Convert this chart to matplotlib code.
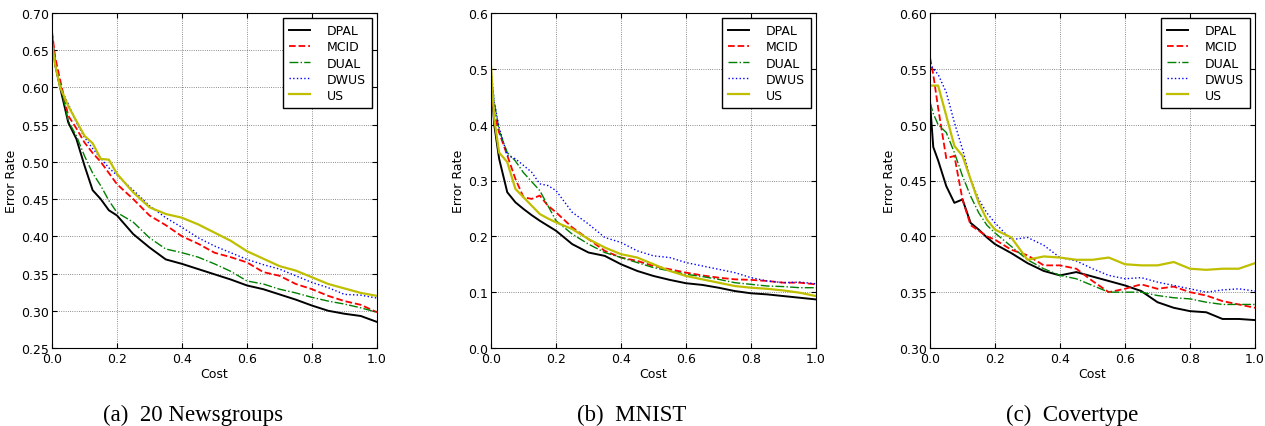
import numpy as np
import matplotlib
matplotlib.use("Agg")
import matplotlib.pyplot as plt

# common cost grid
cost = [0.0, 0.01, 0.025, 0.05, 0.075, 0.1, 0.125, 0.15, 0.175, 0.2,
        0.25, 0.3, 0.35, 0.4, 0.45, 0.5, 0.55, 0.6, 0.65, 0.7,
        0.75, 0.8, 0.85, 0.9, 0.95, 1.0]

# (a) 20 Newsgroups
news_dpal = [0.67, 0.63, 0.60, 0.553, 0.531, 0.495, 0.462, 0.45, 0.435, 0.428,
             0.403, 0.385, 0.369, 0.363, 0.356, 0.349, 0.342, 0.334, 0.329, 0.322,
             0.315, 0.307, 0.300, 0.296, 0.293, 0.285]
news_mcid = [0.675, 0.64, 0.61, 0.562, 0.545, 0.526, 0.512, 0.50, 0.485, 0.47,
             0.45, 0.428, 0.415, 0.40, 0.39, 0.378, 0.372, 0.365, 0.352, 0.347,
             0.336, 0.329, 0.32, 0.313, 0.308, 0.298]
news_dual = [0.665, 0.63, 0.605, 0.555, 0.535, 0.508, 0.485, 0.468, 0.448, 0.432,
             0.419, 0.398, 0.383, 0.378, 0.372, 0.363, 0.353, 0.340, 0.336, 0.329,
             0.324, 0.318, 0.313, 0.309, 0.304, 0.298]
news_dwus = [0.665, 0.63, 0.60, 0.578, 0.553, 0.533, 0.518, 0.505, 0.492, 0.482,
             0.462, 0.441, 0.425, 0.412, 0.398, 0.387, 0.378, 0.369, 0.362, 0.356,
             0.347, 0.338, 0.331, 0.322, 0.321, 0.317]
news_us = [0.66, 0.63, 0.60, 0.575, 0.555, 0.535, 0.525, 0.504, 0.503, 0.484,
           0.459, 0.439, 0.430, 0.425, 0.416, 0.405, 0.394, 0.380, 0.370, 0.360,
           0.354, 0.345, 0.336, 0.330, 0.324, 0.32]

# (b) MNIST
mnist_dpal = [0.48, 0.40, 0.339, 0.279, 0.261, 0.249, 0.238, 0.228, 0.219, 0.21,
              0.186, 0.171, 0.165, 0.15, 0.138, 0.129, 0.122, 0.116, 0.113, 0.108,
              0.102, 0.098, 0.096, 0.093, 0.090, 0.087]
mnist_mcid = [0.46, 0.42, 0.386, 0.345, 0.303, 0.27, 0.267, 0.273, 0.255, 0.243,
              0.216, 0.195, 0.174, 0.162, 0.156, 0.147, 0.141, 0.135, 0.130, 0.126,
              0.123, 0.122, 0.120, 0.117, 0.117, 0.114]
mnist_dual = [0.49, 0.44, 0.39, 0.35, 0.335, 0.314, 0.298, 0.282, 0.255, 0.228,
              0.204, 0.186, 0.171, 0.162, 0.153, 0.144, 0.138, 0.132, 0.128, 0.123,
              0.117, 0.114, 0.111, 0.110, 0.108, 0.108]
mnist_dwus = [0.50, 0.44, 0.395, 0.345, 0.339, 0.327, 0.315, 0.294, 0.291, 0.282,
              0.243, 0.222, 0.198, 0.189, 0.174, 0.165, 0.162, 0.153, 0.147, 0.141,
              0.135, 0.126, 0.120, 0.117, 0.118, 0.115]
mnist_us = [0.505, 0.41, 0.35, 0.333, 0.285, 0.27, 0.255, 0.24, 0.232, 0.225,
            0.213, 0.195, 0.18, 0.168, 0.162, 0.15, 0.138, 0.129, 0.123, 0.117,
            0.111, 0.108, 0.106, 0.103, 0.099, 0.093]

# (c) Covertype
cover_dpal = [0.52, 0.48, 0.468, 0.445, 0.43, 0.433, 0.412, 0.406, 0.399, 0.393,
              0.385, 0.376, 0.369, 0.365, 0.368, 0.364, 0.36, 0.356, 0.351, 0.341,
              0.336, 0.333, 0.332, 0.326, 0.326, 0.325]
cover_mcid = [0.56, 0.545, 0.515, 0.47, 0.472, 0.433, 0.41, 0.405, 0.40, 0.397,
              0.388, 0.383, 0.374, 0.374, 0.371, 0.36, 0.35, 0.353, 0.357, 0.353,
              0.355, 0.35, 0.347, 0.342, 0.339, 0.336]
cover_dual = [0.52, 0.51, 0.50, 0.493, 0.475, 0.454, 0.436, 0.421, 0.41, 0.403,
              0.391, 0.379, 0.371, 0.365, 0.362, 0.356, 0.350, 0.350, 0.35, 0.347,
              0.345, 0.344, 0.341, 0.339, 0.339, 0.339]
cover_dwus = [0.555, 0.55, 0.545, 0.529, 0.502, 0.478, 0.451, 0.433, 0.421, 0.412,
              0.397, 0.399, 0.392, 0.381, 0.378, 0.371, 0.365, 0.362, 0.363, 0.359,
              0.356, 0.353, 0.35, 0.352, 0.353, 0.351]
cover_us = [0.535, 0.535, 0.535, 0.508, 0.481, 0.472, 0.451, 0.43, 0.415, 0.406,
            0.399, 0.379, 0.382, 0.381, 0.379, 0.379, 0.381, 0.375, 0.374, 0.374,
            0.377, 0.371, 0.370, 0.371, 0.371, 0.376]

methods = ["DPAL", "MCID", "DUAL", "DWUS", "US"]
colors = ["k", "r", "g", "b", (0.75, 0.75, 0.0)]
styles = ["-", "--", "-.", ":", "-"]
widths = [1.4, 1.3, 1.0, 1.0, 1.6]

panels = [
    ([news_dpal, news_mcid, news_dual, news_dwus, news_us], (0.25, 0.70), 0.05, "%.2f",
     "(a)  20 Newsgroups"),
    ([mnist_dpal, mnist_mcid, mnist_dual, mnist_dwus, mnist_us], (0.0, 0.6), 0.1, "%.1f",
     "(b)  MNIST"),
    ([cover_dpal, cover_mcid, cover_dual, cover_dwus, cover_us], (0.30, 0.60), 0.05, "%.2f",
     "(c)  Covertype"),
]

fig = plt.figure(figsize=(12.65, 4.27), dpi=100)
lefts = [52, 491, 930]
cap_x = [193, 632, 1072]

for i, (series, ylim, ystep, fmt, caption) in enumerate(panels):
    ax = fig.add_axes([lefts[i] / 1265, 78 / 427, 325 / 1265, 335 / 427])
    for ys, name, c, ls, lw in zip(series, methods, colors, styles, widths):
        ax.plot(cost, ys, color=c, linestyle=ls, linewidth=lw, label=name)
    ax.set_xlim(0, 1)
    ax.set_ylim(*ylim)
    ax.set_xticks(np.arange(0, 1.01, 0.2))
    ax.set_yticks(np.arange(ylim[0], ylim[1] + 1e-9, ystep))
    ax.xaxis.set_major_formatter(matplotlib.ticker.FormatStrFormatter("%.1f"))
    ax.yaxis.set_major_formatter(matplotlib.ticker.FormatStrFormatter(fmt))
    ax.tick_params(direction="in", top=True, right=True, labelsize=9)
    ax.tick_params(axis="x", pad=3)
    ax.tick_params(axis="y", pad=2)
    ax.grid(True, color="k", linestyle=":", linewidth=0.6, alpha=0.6)
    ax.set_xlabel("Cost", fontsize=9, labelpad=1)
    ax.set_ylabel("Error Rate", fontsize=9, labelpad=2)
    leg = ax.legend(loc="upper right", fontsize=9, fancybox=False, framealpha=1,
                    handlelength=1.7, handletextpad=1.3, borderaxespad=0.4,
                    labelspacing=0.25, borderpad=0.5)
    leg.get_frame().set_edgecolor("k")
    fig.text(cap_x[i] / 1265, 12 / 427, caption, ha="center", va="center",
             family="Liberation Serif", fontsize=16.5)

fig.savefig("out.png", dpi=100)
